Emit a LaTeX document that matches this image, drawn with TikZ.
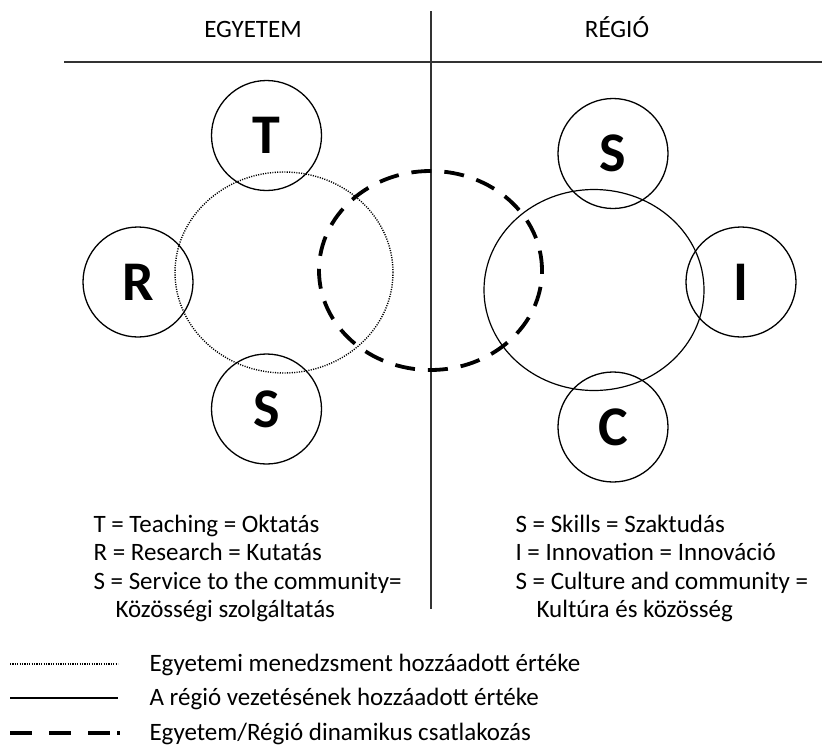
\documentclass[tikz,border=0pt]{standalone}
\usepackage{fontspec}
\setmainfont{Carlito}
\usetikzlibrary{shapes.geometric}

\tikzset{
  ring/.style={circle, draw, line width=1.3pt, minimum size=110pt, inner sep=0pt,
               font=\fontsize{56}{56}\selectfont\bfseries},
  oval/.style={ellipse, draw, inner sep=0pt},
  mgmt/.style={line width=1.4pt, dash pattern=on 1.1pt off 1.3pt, draw=black},
  lead/.style={line width=1.2pt},
  link/.style={line width=3.8pt, dash pattern=on 20pt off 13pt},
  rule/.style={line width=1.1pt, draw=black!80},
  head/.style={font=\fontsize{25}{25}\selectfont, anchor=base},
  body/.style={font=\fontsize{25}{28}\selectfont, anchor=base west},
  key/.style={font=\fontsize{25}{28}\selectfont, anchor=base west}
}

\begin{document}
\begin{tikzpicture}[x=1pt, y=-1pt]
\useasboundingbox (0,0) rectangle (822,750);

% frame: header rule and dividing line
\coordinate (hl) at (64,62);
\coordinate (hr) at (822,62);
\coordinate (vt) at (431,11);
\coordinate (vb) at (431,609);
\draw[rule] (hl) -- (hr);
\draw[rule] (vt) -- (vb);

\node[head] (egy) at (253,37) {EGYETEM};
\node[head] (reg) at (617,37) {RÉGIÓ};

% university side
\node[oval, mgmt, minimum width=218pt, minimum height=201pt] (univ) at (284,272.5) {};
\node[ring] (T) at (266.5,135.5) {T};
\node[ring] (R) at (138,282) {R};
\node[ring] (S1) at (266.5,409) {S};

% region side
\node[oval, lead, minimum width=220pt, minimum height=201pt] (region) at (594,290) {};
\node[ring] (S2) at (613,153.5) {S};
\node[ring] (I) at (741,282) {I};
\node[ring] (C) at (613,427) {C};

% dynamic connection
\node[oval, link, minimum width=223pt, minimum height=199pt] (join) at (430.5,270.5) {};

% explanations
\node[body] (t1) at (90,532) {T = Teaching = Oktatás};
\node[body] (t2) at (90,560.5) {R = Research = Kutatás};
\node[body] (t3) at (90,589) {S = Service to the community=};
\node[body] (t4) at (112,617.5) {Közösségi szolgáltatás};

\node[body] (r1) at (512,532) {S = Skills = Szaktudás};
\node[body] (r2) at (512,560.5) {I = Innovation = Innováció};
\node[body] (r3) at (512,589) {S = Culture and community =};
\node[body] (r4) at (533,617.5) {Kultúra és közösség};

% legend
\coordinate (k1a) at (10,664);
\coordinate (k1b) at (118,664);
\coordinate (k2a) at (10,698);
\coordinate (k2b) at (118,698);
\coordinate (k3a) at (10,733);
\coordinate (k3b) at (120,733);
\draw[mgmt] (k1a) -- (k1b);
\draw[lead] (k2a) -- (k2b);
\draw[line width=3.8pt, dash pattern=on 22pt off 17pt on 22pt off 17pt on 22pt off 7pt on 3pt off 20pt] (k3a) -- (k3b);

\node[key] (l1) at (146,671) {Egyetemi menedzsment hozzáadott értéke};
\node[key] (l2) at (146,705) {A régió vezetésének hozzáadott értéke};
\node[key] (l3) at (146,740) {Egyetem/Régió dinamikus csatlakozás};
\end{tikzpicture}
\end{document}
